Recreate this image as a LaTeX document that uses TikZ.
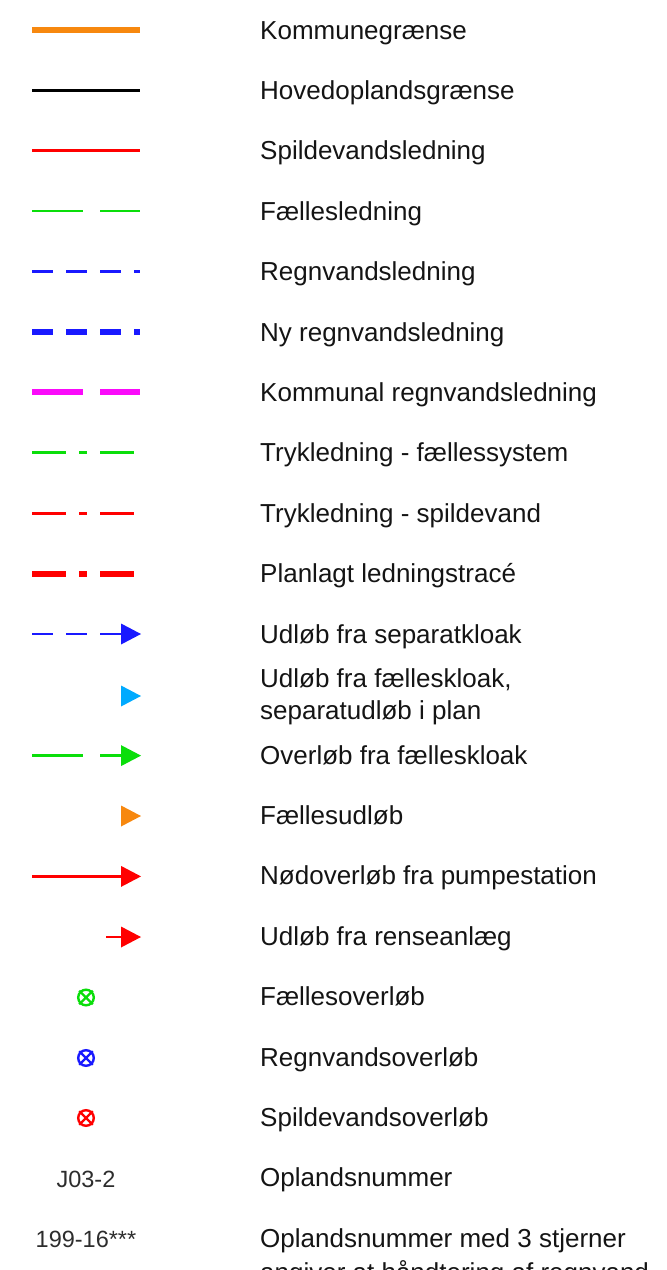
\documentclass[tikz,border=0pt]{standalone}
\usepackage{fontspec}
\setmainfont{Liberation Sans}
\definecolor{kOrange}{RGB}{247,136,15}
\definecolor{kGreen}{RGB}{10,222,10}
\definecolor{kBlue}{RGB}{25,25,255}
\definecolor{kMagenta}{RGB}{250,10,250}
\definecolor{kRed}{RGB}{255,0,0}
\definecolor{kLightBlue}{RGB}{0,170,255}
\definecolor{kText}{RGB}{20,20,20}
\definecolor{kLabel}{RGB}{45,45,45}
\tikzset{
  legtext/.style={anchor=base west, inner sep=0pt, text=kText, font=\fontsize{26}{32}\selectfont},
  codetext/.style={anchor=base, inner sep=0pt, text=kLabel, font=\fontsize{23.5}{28}\selectfont},
  thinline/.style={line width=2.7pt},
  medline/.style={line width=3pt},
  thickline/.style={line width=6pt},
  longdash/.style={dash pattern=on 51pt off 17pt},
  shortdash/.style={dash pattern=on 21pt off 13pt},
  trykdash/.style={dash pattern=on 34pt off 13pt on 8pt off 13pt},
  tri/.pic={\fill (0pt,-10.5pt) -- (20pt,0pt) -- (0pt,10.5pt) -- cycle;},
  ovl/.pic={\draw[line width=2.4pt] (0pt,0pt) circle (7.8pt);
            \draw[line width=2.4pt] (-6.8pt,-6.8pt) -- (6.8pt,6.8pt) (-6.8pt,6.8pt) -- (6.8pt,-6.8pt);}
}
\begin{document}
\begin{tikzpicture}[x=1pt,y=-1pt]
\useasboundingbox (0,0) rectangle (667,1270);
\clip (0,0) rectangle (667,1270);
% symbols
\draw[kOrange, line width=6.5pt] (32,30) -- (140,30);
\draw[black, medline] (32,90.4) -- (140,90.4);
\draw[kRed, thinline] (32,150.8) -- (140,150.8);
\draw[kGreen, thinline, longdash] (32,211) -- (140,211);
\draw[kBlue, thinline, shortdash] (32,271.5) -- (140,271.5);
\draw[kBlue, thickline, shortdash] (32,332) -- (140,332);
\draw[kMagenta, thickline, longdash] (32,392.4) -- (140,392.4);
\draw[kGreen, thinline, trykdash] (32,452.8) -- (134,452.8);
\draw[kRed, thinline, trykdash] (32,513.2) -- (134,513.2);
\draw[kRed, thickline, trykdash] (32,573.6) -- (134,573.6);
\draw[kBlue, thinline, shortdash] (32,634) -- (121,634);
\pic[kBlue] at (121,634) {tri};
\pic[kLightBlue] at (121,696) {tri};
\draw[kGreen, thinline, longdash] (32,755.6) -- (121,755.6);
\pic[kGreen] at (121,755.6) {tri};
\pic[kOrange] at (121,816) {tri};
\draw[kRed, thinline] (32,876.4) -- (121,876.4);
\pic[kRed] at (121,876.4) {tri};
\draw[kRed, thinline] (106,937) -- (121,937);
\pic[kRed] at (121,937) {tri};
\pic[kGreen] at (86,997.5) {ovl};
\pic[kBlue] at (86,1058) {ovl};
\pic[kRed] at (86,1118) {ovl};
\node[codetext] (c1) at (86,1187) {J03-2};
\node[codetext] (c2) at (86,1247) {199-16***};
% texts
\node[legtext] (t0) at (260,39) {Kommunegrænse};
\node[legtext] (t1) at (260,99.4) {Hovedoplandsgrænse};
\node[legtext] (t2) at (260,159.8) {Spildevandsledning};
\node[legtext] (t3) at (260,220.2) {Fællesledning};
\node[legtext] (t4) at (260,280.6) {Regnvandsledning};
\node[legtext] (t5) at (260,341) {Ny regnvandsledning};
\node[legtext] (t6) at (260,401.4) {Kommunal regnvandsledning};
\node[legtext] (t7) at (260,461.8) {Trykledning - fællessystem};
\node[legtext] (t8) at (260,522.2) {Trykledning - spildevand};
\node[legtext] (t9) at (260,582.6) {Planlagt ledningstracé};
\node[legtext] (t10) at (260,643) {Udløb fra separatkloak};
\node[legtext] (t11a) at (260,687) {Udløb fra fælleskloak,};
\node[legtext] (t11b) at (260,719) {separatudløb i plan};
\node[legtext] (t12) at (260,764) {Overløb fra fælleskloak};
\node[legtext] (t13) at (260,824.4) {Fællesudløb};
\node[legtext] (t14) at (260,884.8) {Nødoverløb fra pumpestation};
\node[legtext] (t15) at (260,945.2) {Udløb fra renseanlæg};
\node[legtext] (t16) at (260,1005.6) {Fællesoverløb};
\node[legtext] (t17) at (260,1066) {Regnvandsoverløb};
\node[legtext] (t18) at (260,1126.4) {Spildevandsoverløb};
\node[legtext] (t19) at (260,1186.8) {Oplandsnummer};
\node[legtext] (t20a) at (260,1247.5) {Oplandsnummer med 3 stjerner};
\node[legtext] (t20b) at (260,1281) {angiver at håndtering af regnvand};
\end{tikzpicture}
\end{document}
